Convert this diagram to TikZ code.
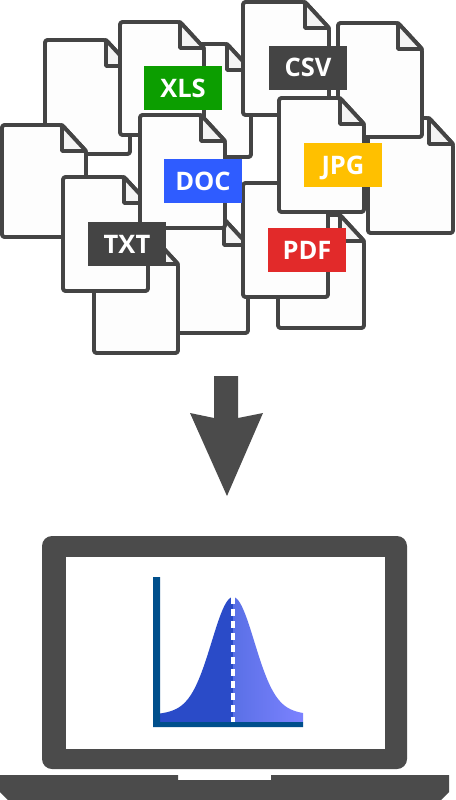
\documentclass[tikz,border=0pt]{standalone}
\usepackage{fontspec}
\setmainfont{Open Sans}
\usepackage{tikz}
\usetikzlibrary{positioning}
\definecolor{inkDark}{HTML}{444444}
\definecolor{laptopGray}{HTML}{4B4B4B}
\definecolor{paperFill}{HTML}{FDFDFD}
\definecolor{foldFill}{HTML}{F4F4F4}
\definecolor{tagGreen}{HTML}{0C9E00}
\definecolor{tagYellow}{HTML}{FFC000}
\definecolor{tagBlue}{HTML}{2F5CFF}
\definecolor{tagRed}{HTML}{E22A2A}
\definecolor{axisBlue}{HTML}{004F8C}
\definecolor{curveDark}{HTML}{2A4BC8}
\definecolor{curveMid}{HTML}{5A70E6}
\definecolor{curveLight}{HTML}{7C82FF}
% left, top, right, bottom of one sheet
\newcommand{\sheet}[4]{
    \draw[paper] (#1,#2) -- (#3-24,#2) -- (#3,#2+26) -- (#3,#4) -- (#1,#4) -- cycle;
    \draw[foldline] (#3-24,#2) -- (#3-24,#2+26) -- (#3,#2+26) -- cycle;
}
\begin{document}
\begin{tikzpicture}[
    x=1pt, y=-1pt,
    paper/.style={draw=inkDark, line width=3.9pt, fill=paperFill, rounded corners=2.5pt, line join=round},
    foldline/.style={draw=inkDark, line width=3.9pt, fill=foldFill, line join=round},
    tag/.style={minimum width=78pt, minimum height=44pt, inner sep=0pt, text=white,
                text height=18pt, text depth=0pt, font=\fontsize{25.5}{25.5}\selectfont\bfseries},
]
    \useasboundingbox (0,0) rectangle (455,800);
    \fill[white] (0,0) rectangle (455,800);

    % sheets, back to front
    \sheet{45}{40}{130}{154}
    \sheet{166}{44}{251}{157}
    \sheet{120}{22}{204}{135}
    \sheet{2}{125}{86}{237}
    \sheet{243}{2}{329}{115}
    \sheet{368}{118}{453}{233}
    \sheet{338}{23}{422}{137}
    \sheet{163}{219}{248}{333}
    \sheet{94}{238}{178}{353}
    \sheet{63}{177}{148}{291}
    \sheet{140}{115}{225}{228}
    \sheet{278}{215}{364}{328}
    \sheet{243}{183}{328}{297}
    \sheet{279}{98}{364}{212}

    % file type tags
    \node[tag, fill=tagGreen] (xls) at (183,88) {XLS};
    \node[tag, fill=inkDark] (csv) at (308,68) {CSV};
    \node[tag, fill=tagYellow] (jpg) at (343,165) {JPG};
    \node[tag, fill=tagBlue] (doc) at (203,181) {DOC};
    \node[tag, fill=inkDark] (txt) at (127,244) {TXT};
    \node[tag, fill=tagRed] (pdf) at (307,250) {PDF};

    % block arrow
    \fill[laptopGray] (214,376) -- (238,376) -- (238,418) -- (263,413) -- (227,496) -- (190,413) -- (214,418) -- cycle;

    % laptop
    \fill[laptopGray, rounded corners=10pt] (42,536) -- (407,536) -- (407,769) -- (42,769) -- cycle;
    \fill[white] (66,557) rectangle (385,749);
    \fill[laptopGray] (0,775) -- (178,775) -- (178,780) -- (271,780) -- (271,775) -- (449,775)
        -- (449,792) -- (441,800) -- (8,800) -- (0,792) -- cycle;

    % bell curve
    \fill[curveDark] (160,722) -- plot[domain=160:233, samples=50]
        ({\x},{716-119*(0.9*exp(-(\x-233)^2/882)+0.1*exp(-(\x-233)^2/3200))}) -- (233,722) -- cycle;
    \shade[left color=curveMid, right color=curveLight] (233,722) -- plot[domain=233:303, samples=50]
        ({\x},{716-119*(0.9*exp(-(\x-233)^2/882)+0.1*exp(-(\x-233)^2/3200))}) -- (303,722) -- cycle;
    \draw[white, line width=3.2pt, dash pattern=on 6.5pt off 5.5pt] (233,597) -- (233,722);
    \fill[axisBlue] (153,577) -- (160,577) -- (160,722) -- (303,722) -- (303,727) -- (153,727) -- cycle;
\end{tikzpicture}
\end{document}
